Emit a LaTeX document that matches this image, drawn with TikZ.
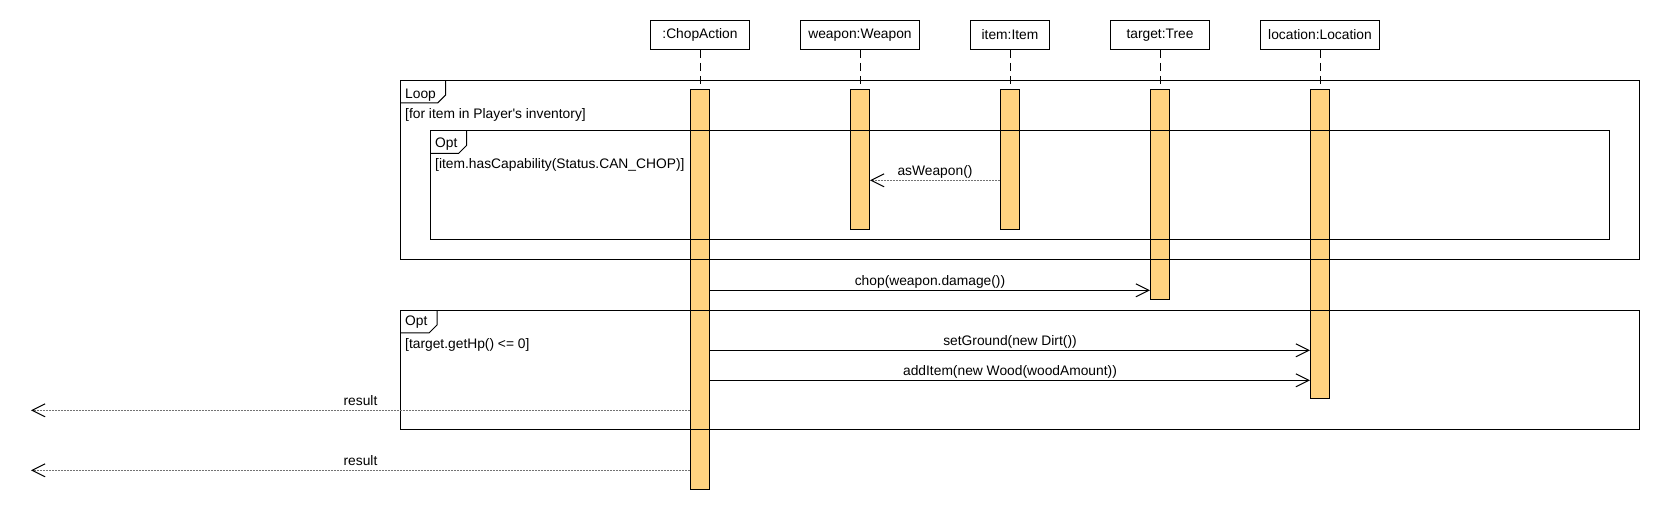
\documentclass[tikz,border=0pt]{standalone}
\usepackage{fontspec}
\setmainfont{Liberation Sans}
\usepackage{tikz}
\usetikzlibrary{%
arrows.meta,%
calc}
\definecolor{actfill}{RGB}{255,211,128}
\tikzset{
  head/.style={draw,line width=1pt,minimum height=29pt,inner sep=0pt},
  act/.style={draw,fill=actfill,line width=1pt,minimum width=19pt,inner sep=0pt},
  lifeline/.style={line width=1pt,dash pattern=on 8pt off 5pt},
  frame/.style={line width=1pt},
  guard/.style={anchor=base west,inner sep=0pt},
  msg/.style={line width=1pt,-{Straight Barb[length=13pt,width=13pt]}},
  reply/.style={black!55,line width=1pt,dash pattern=on 2pt off 1pt,
    -{Straight Barb[length=13pt,width=13pt,color=black]}},
  msglabel/.style={midway,above,inner sep=1pt,text depth=3pt,text=black}
}

\begin{document}
\begin{tikzpicture}[x=1pt,y=-1pt,font=\fontsize{13.8}{16}\selectfont]
\useasboundingbox (0,0) rectangle (1660,510);

\node[head,minimum width=99pt] (chopHead) at (700,34.8) {:ChopAction};
\node[head,minimum width=119pt] (weaponHead) at (860,34.8) {weapon:Weapon};
\node[head,minimum width=79pt] (itemHead) at (1010,34.8) {item:Item};
\node[head,minimum width=99pt] (treeHead) at (1160,34.8) {target:Tree};
\node[head,minimum width=119pt] (locHead) at (1320,34.8) {location:Location};

\node[act,minimum height=399pt] (chopAct) at (700,289.5) {};
\node[act,minimum height=139.3pt] (weaponAct) at (860,159.65) {};
\node[act,minimum height=139.3pt] (itemAct) at (1010,159.65) {};
\node[act,minimum height=209.3pt] (treeAct) at (1160,194.65) {};
\node[act,minimum height=309pt] (locAct) at (1320,244.5) {};

\draw[lifeline] (chopHead) -- (chopAct);
\draw[lifeline] (weaponHead) -- (weaponAct);
\draw[lifeline] (itemHead) -- (itemAct);
\draw[lifeline] (treeHead) -- (treeAct);
\draw[lifeline] (locHead) -- (locAct);

% loop frame
\draw[frame] (400.3,80.3) rectangle (1639.3,259.3);
\draw[frame] (400.3,103) -- (437.7,103) -- (445.7,95) -- (445.7,80.3);
\node[guard] (loopTag) at (405,99) {Loop};
\node[guard] (loopGuard) at (405,119) {[for item in Player\textquotesingle s inventory]};

\draw[frame] (430,130.3) rectangle (1609.3,239.3);
\draw[frame] (430,153.3) -- (458.7,153.3) -- (466.7,145.3) -- (466.7,130.3);
\node[guard] (chopTag) at (435,148) {Opt};
\node[guard] (chopGuard) at (435,169) {[item.hasCapability(Status.CAN\_CHOP)]};

% opt frame
\draw[frame] (400.3,310.3) rectangle (1639.3,429.3);
\draw[frame] (400.3,333) -- (429,333) -- (437,325) -- (437,310.3);
\node[guard] (hpTag) at (405,326) {Opt};
\node[guard] (hpGuard) at (405,348.3) {[target.getHp() <= 0]};

\draw[reply] (itemAct.west |- 0,180.3) -- (weaponAct.east |- 0,180.3)
  node[msglabel] {asWeapon()};
\draw[msg] (chopAct.east |- 0,290.3) -- (treeAct.west |- 0,290.3)
  node[msglabel] {chop(weapon.damage())};
\draw[msg] (chopAct.east |- 0,350.3) -- (locAct.west |- 0,350.3)
  node[msglabel] {setGround(new Dirt())};
\draw[msg] (chopAct.east |- 0,380.3) -- (locAct.west |- 0,380.3)
  node[msglabel] {addItem(new Wood(woodAmount))};

\coordinate (caller1) at (31,410.3);
\coordinate (caller2) at (31,470.3);
\draw[reply] (chopAct.west |- caller1) -- (caller1) node[msglabel] {result};
\draw[reply] (chopAct.west |- caller2) -- (caller2) node[msglabel] {result};
\end{tikzpicture}
\end{document}
